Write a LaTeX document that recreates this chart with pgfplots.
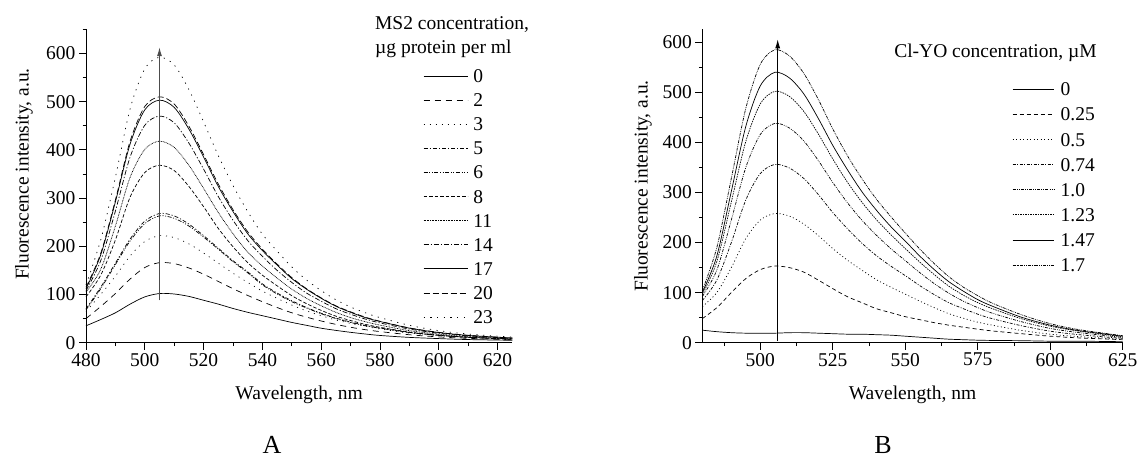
\documentclass[border=0pt]{standalone}
\usepackage{fontspec}
\setmainfont{Liberation Serif}
\usepackage{pgfplots}
\pgfplotsset{compat=1.18}
\usepackage{pgfplotstable}
\usetikzlibrary{arrows.meta}

\pgfplotstableread{
wl  c0   c2   c3   c5   c6   c8   c11  c14  c17  c20  c23
480 35   50   65   70   68   95   105  108  112  115  120
485 48   75   100  115  112  140  152  170  182  185  213
490 62   102  138  165  162  213  242  273  292  296  343
495 80   132  180  215  211  302  343  385  412  418  485
500 95   156  210  252  247  353  401  451  483  490  568
505 102  166  222  268  263  368  418  470  503  510  592
510 101  164  218  263  258  357  405  456  488  495  576
515 96   155  205  246  242  324  368  414  443  449  525
520 88   142  186  222  219  282  320  360  385  390  458
525 80   127  165  196  194  237  270  303  324  329  388
530 71   112  144  170  168  199  226  254  272  276  326
535 63   98   125  147  145  166  188  212  226  230  272
540 56   85   107  122  120  140  159  179  191  194  225
545 49   73   92   103  101  118  134  150  161  163  190
550 42   62   78   87   85   97.5 111  125  133  135  157
555 36   53   66   73   72   81   92   103  111  112  130
560 30   45   56   61   60   67   76.5 86   92   93   108
565 25.5 38   47   51   50   55   63   70.5 75.5 76.5 89
570 21.5 32   40   43   42   46   52   59   63   64   74
575 18   27   34   36   35   38   43.5 49   52   53   62
580 15   23   28.5 30.5 30   32   36.4 41   44   44.4 52
590 11   16.5 20   21.5 21   22   25   28.2 30.2 30.6 36
600 8.5  12   14.5 15.5 15   15.5 17.6 19.7 21.1 21.4 25
610 6.5  9    11   11.5 11   11   12.5 14.1 15.1 15.3 18
625 5    6    7    7.8  7.5  7    7.9  8.9  9.6  9.7  11.5
}\tabA

\pgfplotstableread{
wl  r0   r025 r05  r074 r10  r123 r147 r17
480 25   48   72   84   92   96   100  104
485 22   70   100  125  145  162  173  190
490 20   100  150  200  245  281  302  328
495 19   128  208  285  350  402  432  468
500 19   146  245  338  416  477  513  556
505 19   153  258  356  438  502  540  585
510 20   150  253  349  429  492  529  573
515 20   141  237  328  403  462  497  538
520 19   125  214  296  364  417  448  486
525 18   108  188  260  320  367  394  427
530 17   92   165  228  280  321  346  374
535 17   80   145  199  245  281  302  328
540 16   68   126  174  215  246  265  287
545 15   60   111  153  188  216  232  252
550 13   52   97   134  164  188  203  219
555 11   46   83   114  140  161  173  187
560 9    40   70   96   118  136  146  158
565 7    35   58   80   99   113  122  132
570 6    31   49   68   83   95   103  111
575 5    27   41   57   70   80   86   94
580 4.5  23.5 35   48   59   68   73   79
590 4    18   24.5 34   42   48   51   56
600 3    13   17   23   28.5 33   35   38
610 3    9.5  12   16   20   23   24   26
625 2    6    7    8.5  10.5 12   13   14
}\tabB

\newcommand{\fs}{\fontsize{19.5bp}{24bp}\selectfont}

\pgfplotsset{
  panel/.style={
    scale only axis, clip=false,
    axis x line*=bottom, axis y line*=left,
    axis line style={-, line width=0.9bp},
    tick align=outside, major tick length=7bp, minor tick length=3.5bp,
    every tick/.style={black, line width=0.8bp},
    tick label style={font=\fs}, label style={font=\fs},
    /pgf/number format/assume math mode=true,
    ymin=0, xmin=480, xmax=625,
    legend cell align=left,
    every axis plot/.append style={line width=0.7bp, black, smooth},
  },
}

\begin{document}
\begin{tikzpicture}[x=1bp,y=1bp]
\path[use as bounding box] (0,0) rectangle (1139,459);

% ---------- Panel A ----------
\begin{axis}[panel,
  at={(86bp,116.3bp)}, anchor=south west,
  width=426.3bp, height=313.4bp,
  ymax=650,
  xtick={480,500,...,620}, minor xtick={490,510,...,610},
  ytick={0,100,...,600}, minor ytick={50,150,...,650},
  xlabel={Wavelength, nm}, ylabel={Fluorescence intensity, a.u.},
  xlabel style={at={(axis description cs:0.5,-0.167)}, anchor=center},
  ylabel style={at={(axis description cs:-0.1454,0.538)}, anchor=center},
  legend style={draw=none, fill=none, inner sep=0pt, outer sep=0pt,
    row sep=0pt, column sep=5.4bp, font=\fs,
    at={(axis description cs:0.7912,0.8895)}, anchor=north west,
    nodes={inner sep=0pt, text height=18.65bp, text depth=5.45bp}},
  legend image code/.code={\draw[#1] (0bp,0bp) -- (44bp,0bp);},
]
\addplot[solid] table[x=wl,y=c0] {\tabA};
\addplot[dash pattern=on 6bp off 5bp] table[x=wl,y=c2] {\tabA};
\addplot[dash pattern=on 1bp off 5bp] table[x=wl,y=c3] {\tabA};
\addplot[dash pattern=on 4bp off 2bp on 1.2bp off 2bp] table[x=wl,y=c5] {\tabA};
\addplot[dash pattern=on 4bp off 1.6bp on 1bp off 1.6bp on 1bp off 1.6bp] table[x=wl,y=c6] {\tabA};
\addplot[dash pattern=on 3.5bp off 2bp] table[x=wl,y=c8] {\tabA};
\addplot[dash pattern=on 0.8bp off 0.8bp] table[x=wl,y=c11] {\tabA};
\addplot[dash pattern=on 5bp off 2bp on 1.2bp off 2bp] table[x=wl,y=c14] {\tabA};
\addplot[solid] table[x=wl,y=c17] {\tabA};
\addplot[dash pattern=on 6bp off 3bp] table[x=wl,y=c20] {\tabA};
\addplot[dash pattern=on 1.2bp off 5.5bp] table[x=wl,y=c23] {\tabA};
\legend{0,2,3,5,6,8,11,14,17,20,23}
\addplot[black!70, line width=1bp, sharp plot, -{Latex[length=9bp,width=5bp]}, forget plot] coordinates {(505,88) (505,613)};
\node[anchor=west, align=left, font=\fs] at (axis description cs:0.670,0.9764) {MS2 concentration,\\µg protein per ml};
\end{axis}

% ---------- Panel B ----------
\begin{axis}[panel,
  at={(702.3bp,116.3bp)}, anchor=south west,
  width=420.4bp, height=313.4bp,
  ymax=626,
  xtick={500,525,...,625}, minor xtick={487.5,512.5,...,612.5},
  ytick={0,100,...,600}, minor ytick={50,150,...,550},
  xlabel={Wavelength, nm}, ylabel={Fluorescence intensity, a.u.},
  xlabel style={at={(axis description cs:0.5,-0.167)}, anchor=center},
  ylabel style={at={(axis description cs:-0.141,0.5)}, anchor=center},
  legend style={draw=none, fill=none, inner sep=0pt, outer sep=0pt,
    row sep=0pt, column sep=6bp, font=\fs,
    at={(axis description cs:0.7374,0.8486)}, anchor=north west,
    nodes={inner sep=0pt, text height=19.15bp, text depth=5.95bp}},
  legend image code/.code={\draw[#1] (0bp,0bp) -- (41.7bp,0bp);},
]
\addplot[solid] table[x=wl,y=r0] {\tabB};
\addplot[dash pattern=on 4bp off 3bp] table[x=wl,y=r025] {\tabB};
\addplot[dash pattern=on 1bp off 2.5bp] table[x=wl,y=r05] {\tabB};
\addplot[dash pattern=on 3bp off 1.5bp on 1bp off 1.5bp] table[x=wl,y=r074] {\tabB};
\addplot[dash pattern=on 3bp off 1.2bp on 0.8bp off 1.2bp on 0.8bp off 1.2bp] table[x=wl,y=r10] {\tabB};
\addplot[dash pattern=on 1.5bp off 1bp] table[x=wl,y=r123] {\tabB};
\addplot[solid] table[x=wl,y=r147] {\tabB};
\addplot[dash pattern=on 3bp off 1bp on 0.8bp off 1bp on 0.8bp off 1bp] table[x=wl,y=r17] {\tabB};
\legend{0,0.25,0.5,0.74,1.0,1.23,1.47,1.7}
\addplot[black, line width=0.9bp, sharp plot, -{Latex[length=9bp,width=5bp]}, forget plot] coordinates {(506,3) (506,606)};
\node[anchor=west, font=\fs] at (axis description cs:0.4482,0.9244) {Cl-YO concentration, µM};
\end{axis}

\node[inner sep=0pt, anchor=base, font=\fontsize{26bp}{30bp}\selectfont] at (272,5) {A};
\node[inner sep=0pt, anchor=base, font=\fontsize{26bp}{30bp}\selectfont] at (883,5) {B};
\end{tikzpicture}
\end{document}
